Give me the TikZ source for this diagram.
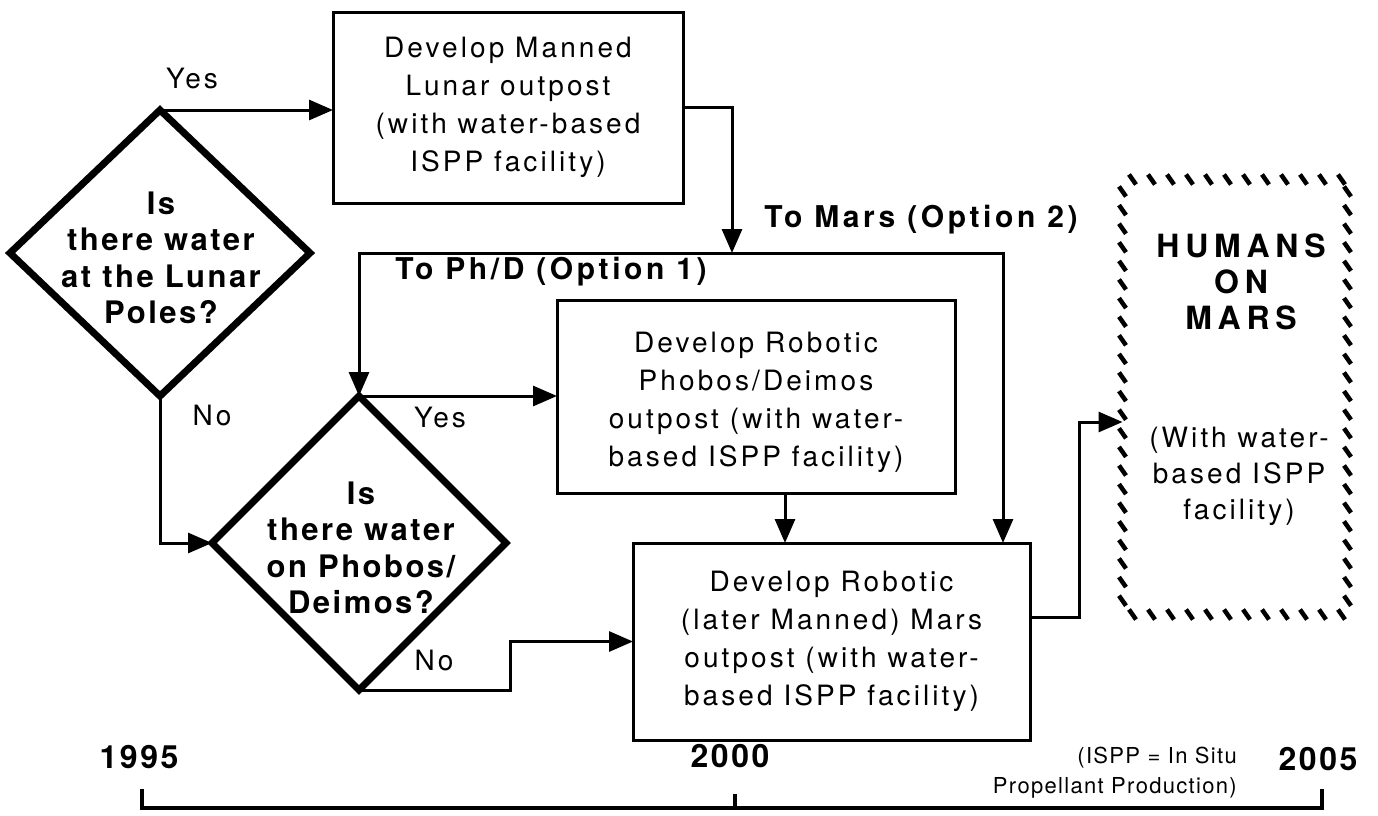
\documentclass[tikz,border=0pt]{standalone}
\usepackage{fontspec}
\setmainfont{TeX Gyre Heros}
\newfontfamily\fReg[LetterSpace=11]{TeX Gyre Heros}
\newfontfamily\fDia[LetterSpace=8]{TeX Gyre Heros}
\newfontfamily\fLbl[LetterSpace=12]{TeX Gyre Heros}
\newfontfamily\fHum[LetterSpace=18]{TeX Gyre Heros}
\newfontfamily\fYear[LetterSpace=8]{TeX Gyre Heros}
\newfontfamily\fNote[LetterSpace=6]{TeX Gyre Heros}
\usetikzlibrary{arrows.meta,calc,shapes.geometric}
\begin{document}
\begin{tikzpicture}[x=1pt,y=-1pt,
  boxtext/.style={font=\fReg\fontsize{28}{38}\selectfont},
  box/.style={draw, line width=3pt, rectangle, inner sep=0pt, outer sep=0pt, align=center, boxtext},
  dia/.style={draw, line width=7pt, diamond, inner sep=0pt, outer sep=0pt, shape aspect=1},
  diatext/.style={align=center, inner sep=0pt, font=\fDia\bfseries\fontsize{31}{36.5}\selectfont},
  lbl/.style={inner sep=0pt, boxtext},
  optlbl/.style={inner sep=0pt, font=\fLbl\bfseries\fontsize{30}{36}\selectfont},
  arr/.style={line width=3pt, -{Triangle[length=24pt,width=20pt]}},
  hatch/.style={line width=4.5pt},
  tl/.style={line width=4pt},
  year/.style={inner sep=0pt, font=\fYear\bfseries\fontsize{32}{36}\selectfont},
  note/.style={inner sep=0pt, align=right, font=\fNote\fontsize{22}{30}\selectfont}
]
\useasboundingbox (0,0) rectangle (1378,815);

% decisions
\node[dia, minimum width=300pt, minimum height=286pt] (d1) at (160,253) {};
\node[diatext] (d1t) at (161,258) {Is\\there water\\at the Lunar\\Poles?};
\node[dia, minimum width=294pt, minimum height=294pt] (d2) at (359,543) {};
\node[diatext] (d2t) at (361,548) {Is\\there water\\on Phobos/\\Deimos?};

% boxes
\node[box, minimum width=350pt, minimum height=191pt] (box1) at (508,107.5)
  {Develop Manned\\Lunar outpost\\(with water-based\\ISPP facility)};
\node[box, minimum width=398pt, minimum height=193pt] (box2) at (756,396.5) {};
\node[lbl, align=center] (box2t) at (756,402)
  {Develop Robotic\\Phobos/Deimos\\outpost (with water-\\based ISPP facility)};
\node[box, minimum width=397pt, minimum height=197pt] (mars) at (831.5,641.5)
  {Develop Robotic\\(later Manned) Mars\\outpost (with water-\\based ISPP facility)};

% humans on mars (hatched frame)
\node[minimum width=225pt, minimum height=435pt, inner sep=0pt, outer sep=0pt] (humans) at (1235,397) {};
\foreach \i in {0,...,11} {
  \draw[hatch] ($(humans.north west)+(\i*19+10,0)$) +(-3.5,-5) -- +(3.5,5);
  \draw[hatch] ($(humans.south west)+(\i*19+10,0)$) +(-3.5,-5) -- +(3.5,5);
}
\foreach \i in {0,...,22} {
  \draw[hatch] ($(humans.north west)+(0,\i*18.6+12)$) +(-3.5,-5) -- +(3.5,5);
  \draw[hatch] ($(humans.north east)+(0,\i*18.6+12)$) +(-3.5,-5) -- +(3.5,5);
}
\node[align=center, inner sep=0pt, font=\fHum\bfseries\fontsize{32}{36}\selectfont] (hum) at (1241,282) {HUMANS\\ON\\MARS};
\node[align=center, inner sep=0pt, font=\fReg\fontsize{28}{36}\selectfont] (humsub) at (1239,476) {(With water-\\based ISPP\\facility)};

% connectors
\coordinate (j) at (732,253);
\coordinate (mc) at (1003,253);
\coordinate (nb) at (510,690);
\coordinate (mx) at (1079,617);
\draw[arr] (d1.north) -- (d1.north -| box1.west);
\draw[arr] (box1.east) -- (box1.east -| j) -- (j);
\draw[arr] (j) -- (j -| d2.north) -- (d2.north);
\draw[arr] (j) -- (mc) -- (mc |- mars.north);
\draw[arr] (d2.north) -- (d2.north -| box2.west);
\draw[arr] ([xshift=29pt]box2.south) -- ([xshift=29pt]box2.south |- mars.north);
\draw[arr] (d1.south) |- (d2.west);
\draw[arr] (d2.south) -- (d2.south -| nb) |- (mars.west);
\draw[arr] ([yshift=24.5pt]mars.east) -- (mx) |- ([yshift=-25pt]humans.west);

% labels
\node[lbl] (yes1) at (192,78) {Yes};
\node[lbl] (no1) at (212,415) {No};
\node[lbl] (yes2) at (440,417) {Yes};
\node[lbl] (no2) at (434,660) {No};
\node[optlbl] (opt1) at (551,272) {To Ph/D (Option 1)};
\node[optlbl] (opt2) at (921,220) {To Mars (Option 2)};

% timeline
\node[year] (y1995) at (139,757) {1995};
\node[year] (y2000) at (730,756) {2000};
\node[year] (y2005) at (1318,759) {2005};
\node[note, anchor=east] (isppnote) at (1237,773) {(ISPP = In Situ\\Propellant Production)};
\coordinate (t1) at (142,789);
\coordinate (t2) at (735,794);
\coordinate (t3) at (1322,789);
\coordinate (b1) at (142,808);
\draw[tl] (t1) -- (b1) -- (b1 -| t3) -- (t3);
\draw[tl] (t2) -- (t2 |- b1);
\end{tikzpicture}
\end{document}
